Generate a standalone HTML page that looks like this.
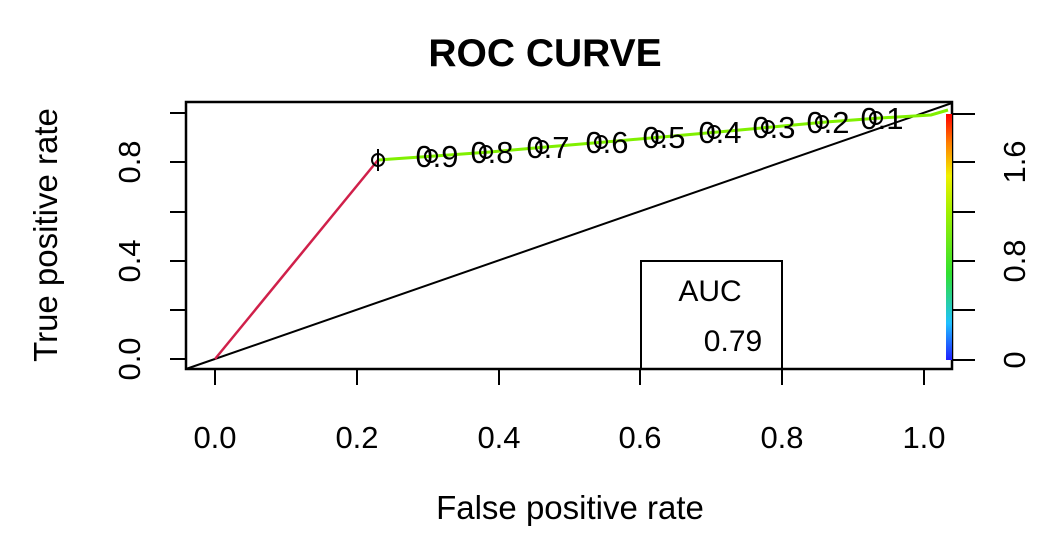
<!DOCTYPE html>
<html><head><style>body{margin:0;background:#fff}</style></head><body>
<svg width="1058" height="546" xmlns="http://www.w3.org/2000/svg" font-family="Liberation Sans, sans-serif">
<defs><linearGradient id="g" x1="0" y1="1" x2="0" y2="0">
<stop offset="0" stop-color="#2020ff"/><stop offset="0.15" stop-color="#20c0ff"/><stop offset="0.35" stop-color="#30e030"/><stop offset="0.6" stop-color="#a0f000"/><stop offset="0.75" stop-color="#f0f000"/><stop offset="0.88" stop-color="#ff8000"/><stop offset="1" stop-color="#ff0000"/></linearGradient></defs>
<text x="545" y="66" text-anchor="middle" font-size="39" font-weight="bold">ROC CURVE</text>
<rect x="186" y="102" width="766" height="267" fill="none" stroke="#000" stroke-width="2.5"/>
<g stroke="#000" stroke-width="2">
<line x1="170" y1="359" x2="186" y2="359"/><line x1="170" y1="310" x2="186" y2="310"/><line x1="170" y1="261" x2="186" y2="261"/><line x1="170" y1="212" x2="186" y2="212"/><line x1="170" y1="162" x2="186" y2="162"/><line x1="170" y1="113" x2="186" y2="113"/>
<line x1="215" y1="369" x2="215" y2="385"/><line x1="357" y1="369" x2="357" y2="385"/><line x1="499" y1="369" x2="499" y2="385"/><line x1="640" y1="369" x2="640" y2="385"/><line x1="782" y1="369" x2="782" y2="385"/><line x1="924" y1="369" x2="924" y2="385"/>
<line x1="952" y1="114" x2="975" y2="114"/><line x1="952" y1="162" x2="975" y2="162"/><line x1="952" y1="212" x2="975" y2="212"/><line x1="952" y1="261" x2="975" y2="261"/><line x1="952" y1="310" x2="975" y2="310"/><line x1="952" y1="360" x2="975" y2="360"/>
</g>
<g font-size="31" text-anchor="middle">
<text x="215" y="448">0.0</text><text x="357" y="448">0.2</text><text x="499" y="448">0.4</text><text x="640" y="448">0.6</text><text x="782" y="448">0.8</text><text x="924" y="448">1.0</text>
<text transform="translate(140,359) rotate(-90)">0.0</text><text transform="translate(140,261) rotate(-90)">0.4</text><text transform="translate(140,162) rotate(-90)">0.8</text>
<text transform="translate(1025,360) rotate(-90)">0</text><text transform="translate(1025,261) rotate(-90)">0.8</text><text transform="translate(1025,162) rotate(-90)">1.6</text>
<text x="570" y="519" font-size="33">False positive rate</text>
<text transform="translate(57,235) rotate(-90)" font-size="33">True positive rate</text>
</g>
<rect x="946" y="114" width="6" height="246" fill="url(#g)"/>
<line x1="186" y1="369" x2="952" y2="103" stroke="#000" stroke-width="2"/>
<line x1="215" y1="359" x2="378" y2="160" stroke="#d0204a" stroke-width="2.5"/>
<polyline points="378,160 435,156 490,152 546,147 605,142 662,137 718,132 772,127 826,122 880,118 931,115 948,110" fill="none" stroke="#80f000" stroke-width="3"/>
<g fill="none" stroke="#000" stroke-width="2">
<circle cx="378" cy="160" r="6"/><line x1="378" y1="149" x2="378" y2="171"/>
<circle cx="431" cy="156" r="6"/><circle cx="486" cy="152" r="6"/><circle cx="542" cy="147" r="6"/><circle cx="601" cy="142" r="6"/><circle cx="658" cy="137" r="6"/><circle cx="714" cy="132" r="6"/><circle cx="768" cy="127" r="6"/><circle cx="822" cy="122" r="6"/><circle cx="876" cy="118" r="6"/>
</g>
<g font-size="31" text-anchor="middle">
<text x="437" y="167">0.9</text><text x="492" y="163">0.8</text><text x="548" y="158">0.7</text><text x="607" y="153">0.6</text><text x="664" y="148">0.5</text><text x="720" y="143">0.4</text><text x="774" y="138">0.3</text><text x="828" y="133">0.2</text><text x="882" y="129">0.1</text>
</g>
<polyline points="641,369 641,261 782,261 782,369" fill="none" stroke="#000" stroke-width="2"/>
<text x="710" y="301" font-size="30" text-anchor="middle">AUC</text>
<text x="733" y="351" font-size="30" text-anchor="middle">0.79</text>
</svg>
</body></html>
